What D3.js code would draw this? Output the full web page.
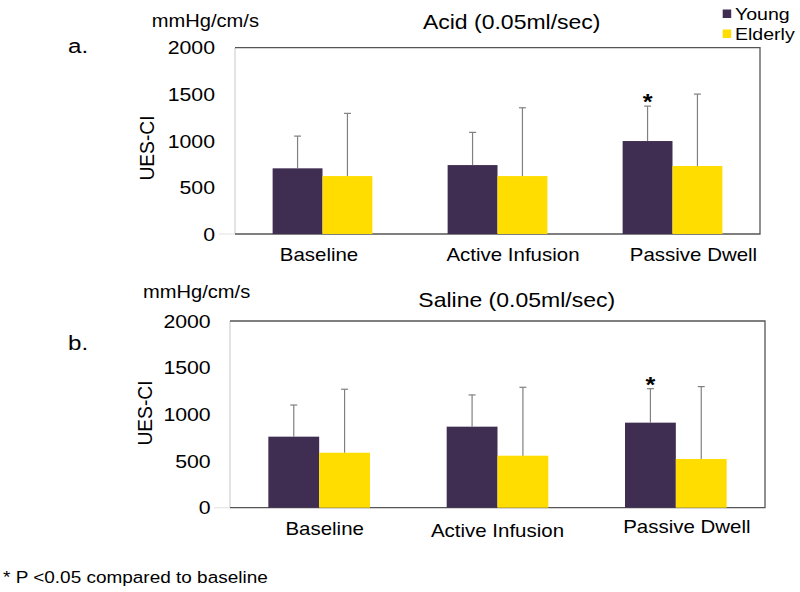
<!DOCTYPE html>
<html>
<head>
<meta charset="utf-8">
<script src="https://cdn.jsdelivr.net/npm/d3@7"></script>
<style>
  html, body { margin: 0; padding: 0; background: #fff; }
  svg { display: block; font-family: "Liberation Sans", Arial, sans-serif; }
</style>
</head>
<body>
<svg id="chart" width="800" height="592"></svg>
<script>
// ---- data ----
const categories = ["Baseline", "Active Infusion", "Passive Dwell"];
const seriesNames = ["Young", "Elderly"];
const yTicks = [0, 500, 1000, 1500, 2000];

const acidYoung = [705, 740, 998];
const acidYoungErr = [346, 351, 375];
const acidElderly = [622, 622, 730];
const acidElderlyErr = [673, 733, 772];
const acidSignificant = [false, false, true];

const salineYoung = [761, 868, 911];
const salineYoungErr = [339, 340, 364];
const salineElderly = [589, 557, 522];
const salineElderlyErr = [680, 733, 775];
const salineSignificant = [false, false, true];

const panelTitles = ["Acid (0.05ml/sec)", "Saline (0.05ml/sec)"];
const panelLetters = ["a.", "b."];
const unitLabel = "mmHg/cm/s";
const yAxisLabel = "UES-CI";
const footnote = "* P <0.05 compared to baseline";

// ---- styles ----
const colors = { Young: "#402e52", Elderly: "#ffdd00" };
const SX = 1.15; // horizontal stretch of the original raster text

const svg = d3.select("#chart");

function txt(g, x, y, s, size, anchor, extra) {
  const t = g.append("text")
    .attr("transform", `translate(${x},${y}) scale(${SX},1)`)
    .attr("font-size", size)
    .attr("fill", "#000")
    .attr("text-anchor", anchor || "start")
    .text(s);
  if (extra) extra(t);
  return t;
}

const panels = [
  {
    young: acidYoung, youngErr: acidYoungErr, elderly: acidElderly, elderlyErr: acidElderlyErr,
    sig: acidSignificant, title: panelTitles[0], letter: panelLetters[0],
    left: 235, right: 760, top: 47.7, bottom: 234,
    letterPos: [68, 53], unitPos: [151.7, 27], titlePos: [511.7, 29],
    tickRight: 215, yLabelPos: [146.7, 148],
    catDx: [-3.5, 15.5, 21], catY: [261, 261, 261]
  },
  {
    young: salineYoung, youngErr: salineYoungErr, elderly: salineElderly, elderlyErr: salineElderlyErr,
    sig: salineSignificant, title: panelTitles[1], letter: panelLetters[1],
    left: 230, right: 765, top: 321, bottom: 507.7,
    letterPos: [68, 350], unitPos: [143, 298], titlePos: [516.7, 307],
    tickRight: 210.7, yLabelPos: [145, 413],
    catDx: [5.5, 0, 11], catY: [535, 537, 533]
  }
];

panels.forEach(p => {
  const g = svg.append("g");
  const x = d3.scaleBand().domain(categories).range([p.left, p.right])
    .paddingInner(0.43).paddingOuter(0.215);
  const xs = d3.scaleBand().domain(seriesNames).range([0, x.bandwidth()]);
  const y = d3.scaleLinear().domain([0, 2000]).range([p.bottom, p.top]);

  // frame
  g.append("line").attr("x1", p.left).attr("x2", p.left).attr("y1", p.top).attr("y2", p.bottom)
    .attr("stroke", "#d0d0d0").attr("stroke-width", 1.2);
  g.append("line").attr("x1", p.left - 16).attr("x2", p.left).attr("y1", p.bottom).attr("y2", p.bottom)
    .attr("stroke", "#e6e6e6").attr("stroke-width", 1.2);
  g.append("path")
    .attr("d", `M${p.left},${p.top}H${p.right}V${p.bottom}H${p.left}`)
    .attr("fill", "none").attr("stroke", "#555").attr("stroke-width", 1.3);

  // y ticks
  yTicks.forEach(t => {
    txt(g, p.tickRight, y(t), d3.format("d")(t), 18.5, "end", s => s.attr("dy", "0.36em"));
  });

  // bars
  const rows = categories.map((c, i) => ({
    cat: c, i,
    vals: [
      { s: "Young", v: p.young[i], e: p.youngErr[i] },
      { s: "Elderly", v: p.elderly[i], e: p.elderlyErr[i] }
    ]
  }));
  const grp = g.selectAll("g.cat").data(rows).join("g")
    .attr("transform", d => `translate(${x(d.cat)},0)`);
  grp.selectAll("rect").data(d => d.vals).join("rect")
    .attr("x", d => xs(d.s)).attr("width", xs.bandwidth())
    .attr("y", d => y(d.v)).attr("height", d => y(0) - y(d.v))
    .attr("fill", d => colors[d.s]);
  // error bars
  grp.selectAll("line.err").data(d => d.vals).join("line").attr("class", "err")
    .attr("x1", d => xs(d.s) + xs.bandwidth() / 2).attr("x2", d => xs(d.s) + xs.bandwidth() / 2)
    .attr("y1", d => y(d.v)).attr("y2", d => y(d.v + d.e))
    .attr("stroke", "#808080").attr("stroke-width", 1.2);
  grp.selectAll("line.cap").data(d => d.vals).join("line").attr("class", "cap")
    .attr("x1", d => xs(d.s) + xs.bandwidth() / 2 - 3.5).attr("x2", d => xs(d.s) + xs.bandwidth() / 2 + 3.5)
    .attr("y1", d => y(d.v + d.e)).attr("y2", d => y(d.v + d.e))
    .attr("stroke", "#808080").attr("stroke-width", 1.2);
  // significance
  rows.forEach((r, i) => {
    if (p.sig[i]) {
      const cx = x(r.cat) + xs("Young") + xs.bandwidth() / 2;
      txt(g, cx, y(p.young[i] + p.youngErr[i]) + 3, "*", 22, "middle", s => s.attr("font-weight", "bold"));
    }
  });

  // category labels
  categories.forEach((c, i) => {
    txt(g, x(c) + x.bandwidth() / 2 + p.catDx[i], p.catY[i], c, 17.8, "middle");
  });

  // texts
  txt(g, p.letterPos[0], p.letterPos[1], p.letter, 21, "start");
  txt(g, p.unitPos[0], p.unitPos[1], unitLabel, 17.5, "start");
  txt(g, p.titlePos[0], p.titlePos[1], p.title, 20, "middle");
  g.append("text")
    .attr("transform", `translate(${p.yLabelPos[0]},${p.yLabelPos[1]}) rotate(-90) scale(1.1,${SX})`)
    .attr("font-size", 17.5).attr("text-anchor", "middle").attr("dy", "0.35em")
    .text(yAxisLabel);
});

// legend
const leg = svg.append("g");
seriesNames.forEach((s, i) => {
  leg.append("rect").attr("x", 722.7).attr("y", 9.5 + i * 20).attr("width", 8.5).attr("height", 8.5)
    .attr("fill", colors[s]);
  txt(leg, 735, 19.5 + i * 20, s, 17, "start");
});

// footnote
txt(svg, 3, 583, footnote, 16.5, "start");
</script>
</body>
</html>
